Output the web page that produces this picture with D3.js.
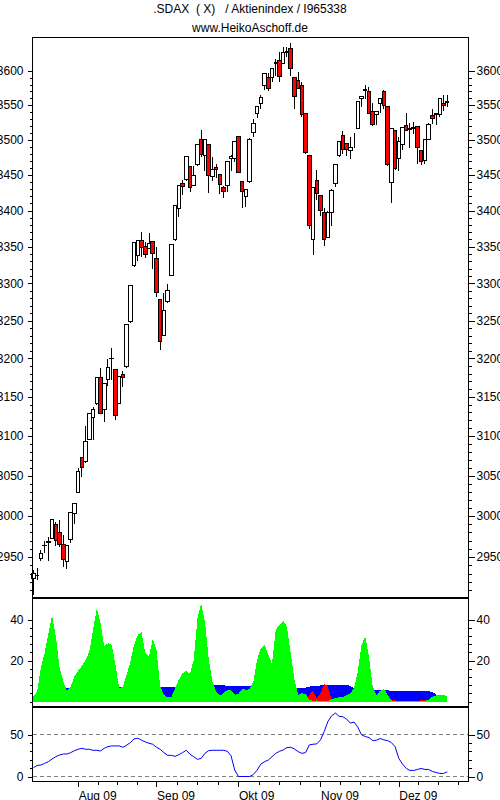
<!DOCTYPE html>
<html>
<head>
<meta charset="utf-8">
<script src="https://cdn.jsdelivr.net/npm/d3@7"></script>
<style>
html, body { margin: 0; padding: 0; background: #fff; }
svg { display: block; }
text { font-family: "Liberation Sans", Arial, sans-serif; font-size: 12px; fill: #000; }
.domain { display: none; }
.tick line { stroke: #000; shape-rendering: crispEdges; }
</style>
</head>
<body>
<svg id="chart" width="500" height="800"></svg>
<script>
var titleLines = [".SDAX  ( X)   / Aktienindex / I965338", "www.HeikoAschoff.de"];

// daily candles
var candleOpen = [2924,2927.5,2948,2963.5,2967.5,2973,2989,2980,2965,2944,2971,3003,3029.5,3072.7,3067.6,3095.5,3124,3141.5,3175,3134,3172.5,3199.5,3185,3141.5,3178.5,3189,3248.8,3324,3338,3359,3350,3348,3357.7,3333.8,3278,3230,3275.4,3310.6,3360,3403.4,3437.3,3443.6,3462.5,3435,3464,3501,3478,3492.5,3448,3461,3451,3432.4,3435,3473.9,3473,3505.3,3441.3,3419.7,3440,3511,3538.4,3553,3578.8,3589.7,3590.7,3611,3615,3611.7,3627.5,3633.5,3589.7,3585.4,3578,3538.4,3478,3360,3442,3421,3397,3363,3397,3438.5,3477.6,3506.7,3495,3485,3498,3516.4,3559,3571.5,3569.2,3541.4,3536.6,3553,3569.2,3548.5,3439.8,3514,3473.9,3492.5,3520,3515,3516.5,3518.5,3484,3470,3501,3535.6,3536.5,3537,3553,3554.5];
var candleHigh = [2934,2937,2958,2970,2974,2995.5,2992,2995,2977,2964,3004,3015,3060,3073,3113,3129,3137,3175,3187,3167,3199,3214,3185,3177,3184,3245.3,3296.7,3356,3359,3370,3356,3368.7,3358,3350,3278,3287.6,3299,3353.6,3407.5,3435.6,3443,3475.4,3462.5,3462,3492.5,3513.5,3499.7,3492.5,3475,3465.4,3451,3435,3468.4,3478,3496.8,3505.3,3441.3,3430,3503,3530,3548.5,3565,3597,3597,3604.3,3617.7,3628.6,3636,3636,3642,3589.7,3598,3584,3538.4,3478,3431.5,3456.5,3421,3404,3400,3430,3465,3496.8,3512,3495,3504,3509.6,3555.8,3563.3,3579.8,3576,3553,3541.4,3559,3572,3548.5,3515.6,3514,3504,3517,3538,3524,3526,3518.5,3484,3501,3524,3544,3539,3560,3565,3565];
var candleLow = [2905,2922,2945,2955,2945,2973,2963,2962,2938,2935,2967,2990,3029,3048,3066,3095,3095,3140,3128,3118,3164,3172,3120,3141,3163,3188,3247,3322,3330,3335.6,3333.8,3348,3320,3281.5,3210.5,3229,3273,3310,3358,3390.5,3422,3442,3426,3434,3463,3476,3456,3424.4,3442,3445,3423,3417,3426,3455,3468,3452,3403,3404.5,3439,3504,3532,3544,3571.6,3570,3583.5,3592,3584.5,3611,3620,3592,3544,3574,3533,3480,3375,3338,3414.5,3392,3351,3362,3378,3433,3476,3480,3477,3473,3488,3515,3548,3559,3537,3520,3520.8,3539,3544,3462,3409.9,3457,3455,3486,3514,3488,3508,3466,3463.5,3466,3499,3522,3521,3533,3541,3547];
var candleClose = [2930,2928,2954,2964.5,2968.5,2995.5,2970,2965,2947,2964,3004,3015,3055,3060,3093,3128.5,3134,3175,3128.5,3167,3188,3200.5,3126,3177,3175,3245.3,3296.7,3356,3359,3349,3339.8,3354.4,3341,3288,3222.8,3263.5,3290.8,3353.6,3407.5,3435.6,3434,3475.4,3431.5,3449.8,3492.5,3479.6,3499.7,3449.8,3456.9,3457,3437,3426,3468.4,3476.7,3496.8,3453.5,3426.7,3430,3501,3524,3548.5,3561.8,3597,3575,3604.3,3612.5,3591.4,3626.7,3628.5,3604.3,3563.3,3574.5,3536.6,3481.8,3379.8,3431.5,3423.5,3400.7,3360,3397,3428.5,3465,3496.8,3486.6,3486.6,3489.5,3498,3555.8,3563.3,3572.5,3538.4,3522,3541.4,3559,3550,3465,3515.6,3459.6,3496.8,3517,3514,3516,3517.5,3489.5,3468.4,3501,3521.4,3530,3537.5,3560,3550,3555.5];

// middle panel, three overlapping areas
var blueArea = [1.5,2.5,3.5,4.5,5,5.5,5.5,6,6,6.5,6.5,6.5,6.5,6.5,6.5,6.5,7,7,7,7,7,7,7,7,7,7,7,7,7,7,7,7,7,7.2,7.2,7.2,7.2,7,6.8,6.5,6.5,6.5,7,7,7.5,7.5,7.5,7.5,8,8.1,8.1,8,7.6,7.6,7.6,7.6,7.6,7.6,7.6,7.6,7.6,7.6,7.6,7.6,7.6,7.6,7.6,7.6,7.6,7.6,7,6.5,6.5,6.8,7.2,7.6,7.6,7.8,8,8.1,8.1,8.1,8.1,8.1,8.1,7.6,6.5,6,6,5.7,5.7,5.7,5.7,5.7,5.7,5.5,5.2,5.2,5.2,5.2,5.2,5.2,5.2,5.2,5.2,5.2,5.2,4.5,3.5,2.5,1.5,1];
var redArea = [0,0,0,0,0,0,0,0,0,0,0,0,0,0,0,0,0,0,0,0,0,0,0,0,0,0,0,0,0,0,0,0,0,0,0,0,0,0,0,0,0,0,0,0,0,0,0,0,0,0,0,0,0,0,0,0,0,0,0,0,0,0,0,0,0,0,0,0,0,0,0,0,0,0,3.3,5.2,1.6,4,8.6,7.3,0.5,0,0,0,0,0,0,0,0,0,0,0,0,0,0,0,0.6,0.6,0,0,0,0,0,0,0.6,0.6,0,0,0,0,0,0];
var greenArea = [2.4,4.9,16.5,23.6,33,41.8,31.7,17,9.8,5.2,7.3,12.2,15,17.4,20.3,24.4,35,45.5,38.2,26.8,28.5,27.6,17.9,6.5,7.3,13,19.5,27.6,32.5,33.7,23.6,22,30.4,25.2,7.3,3.3,2,2.1,6.5,10.6,13.8,15,13.5,20.3,40.7,47.6,39,21.1,9.8,4.9,2.9,4,5.7,5.4,3.3,3.7,6.2,5.7,6,9.8,20.3,26,27.6,22.8,18.4,35,37.4,39.3,36.6,23.6,10.6,3.3,4,3.7,0.8,0.4,0.5,0.3,0.3,0.3,1.1,1.6,2.1,2.1,3,4,6.5,14.6,27.6,31.7,22,7.3,3.3,5.2,6.2,3.3,0.5,0.3,0.3,0.3,0.3,0.3,0.3,0.3,0.3,0.3,0.8,2.4,3,3,3,2.8];

// bottom panel line
var lowerLine = [10.4,13.2,13.6,15.6,17.6,20.8,23.6,25.6,26.8,26.8,28.4,30.8,32.4,33.6,32.4,32.4,31.2,31.2,30.4,33.6,35.6,36.4,36.4,36.4,34.8,37.2,40.4,44.8,45.6,43.2,41.2,39.6,38.4,34.8,32.4,28.4,25.2,25.2,24,26,28.4,31.2,26.4,23.6,20.4,21.6,27.6,30.8,31.2,31.2,31.2,31.2,30,24.8,7.6,0,0,0,0,2.4,7.6,14.8,17.6,19.6,23.6,27.6,30,31.6,34.4,34.8,32.8,29.6,27.6,28.4,37.6,38.4,38.8,43.6,53.6,65.6,72.4,75.6,71.6,71.2,68.4,63.6,64.8,58.8,49.6,47.6,46.4,42.8,43.2,45.2,43.6,42.8,40.4,35.6,21.6,14.8,9.6,7.2,7.2,8.4,9.6,8.4,8.4,6,4.8,3.6,3.6,5.6];

// month starts as candle index, quarter months as minor ticks
var monthIndex = [12, 33, 55, 77, 98];
var monthLabels = ["Aug 09", "Sep 09", "Okt 09", "Nov 09", "Dez 09"];
var weekIndex = [17.25,22.5,27.75,38.5,44,49.5,60.5,66,71.5,82.25,87.5,92.75,103.25,108.5,113.75];

var priceTicks = [2950,3000,3050,3100,3150,3200,3250,3300,3350,3400,3450,3500,3550,3600];
var middleTicks = [20, 40];
var lowerTicks = [0, 50];

var left = 32.5, right = 468.5;
var top1 = 37.5, bottom1 = 597.5, bottom2 = 706.5, bottom3 = 781.5;

var svg = d3.select("#chart");

var x = d3.scaleLinear().domain([-0.25, 116.7]).range([left, right]);
var yPrice = d3.scaleLog().domain([2950, 3600]).range([557, 71]);
var yMiddle = d3.scaleLinear().domain([0, 40]).range([701.5, 619.5]);
var yLower = d3.scaleLinear().domain([0, 50]).range([776.5, 734.5]);

var days = d3.range(candleOpen.length);

// TITLE
svg.selectAll(".title")
    .data(titleLines)
    .enter().append("text")
    .attr("class", "title")
    .attr("x", 250)
    .attr("y", function (d, i) { return 13 + i * 19; })
    .attr("text-anchor", "middle")
    .attr("xml:space", "preserve")
    .style("white-space", "pre")
    .text(function (d) { return d; });

// MIDDLE PANEL
function drawArea(values, color) {
    var area = d3.area()
        .x(function (d, i) { return x(i); })
        .y0(yMiddle(0))
        .y1(function (d) { return yMiddle(d); });
    svg.append("path")
        .datum(values)
        .attr("d", area)
        .attr("fill", color)
        .attr("shape-rendering", "crispEdges");
}
drawArea(blueArea, "#0000ff");
drawArea(redArea, "#ff0000");
drawArea(greenArea, "#00ff00");

// LOWER PANEL
svg.selectAll(".guide")
    .data(lowerTicks)
    .enter().append("line")
    .attr("class", "guide")
    .attr("x1", left)
    .attr("x2", right)
    .attr("y1", function (d) { return yLower(d); })
    .attr("y2", function (d) { return yLower(d); })
    .attr("stroke", "#808080")
    .attr("stroke-dasharray", "4,3")
    .attr("shape-rendering", "crispEdges");

svg.append("path")
    .datum(lowerLine)
    .attr("d", d3.line()
        .x(function (d, i) { return x(i); })
        .y(function (d) { return yLower(d); }))
    .attr("fill", "none")
    .attr("stroke", "#0000ff")
    .attr("stroke-width", 1);

// CANDLES
var candles = svg.selectAll(".candle")
    .data(days)
    .enter().append("g")
    .attr("class", "candle")
    .attr("shape-rendering", "crispEdges");

candles.append("line")
    .attr("x1", function (i) { return x(i); })
    .attr("x2", function (i) { return x(i); })
    .attr("y1", function (i) { return yPrice(candleHigh[i]); })
    .attr("y2", function (i) { return yPrice(candleLow[i]); })
    .attr("stroke", "#000");

candles.filter(function (i) { return candleOpen[i] != candleClose[i]; })
    .append("rect")
    .attr("x", function (i) { return x(i) - 1.75; })
    .attr("width", 3.5)
    .attr("y", function (i) { return yPrice(Math.max(candleOpen[i], candleClose[i])); })
    .attr("height", function (i) { return Math.abs(yPrice(candleOpen[i]) - yPrice(candleClose[i])); })
    .attr("fill", function (i) { return candleClose[i] < candleOpen[i] ? "#ff0000" : "#ffffff"; })
    .attr("stroke", "#000");

// FRAME
svg.append("path")
    .attr("d", "M" + left + "," + bottom3 + "V" + top1 + "H" + right + "V" + bottom3 + "H" + left)
    .attr("fill", "none")
    .attr("stroke", "#000")
    .attr("shape-rendering", "crispEdges");

[bottom1, bottom2].forEach(function (yy) {
    svg.append("line")
        .attr("x1", left)
        .attr("x2", right)
        .attr("y1", yy)
        .attr("y2", yy)
        .attr("stroke", "#000")
        .attr("stroke-width", 2)
        .attr("shape-rendering", "crispEdges");
});

// AXES
function sideAxes(scale, majors, minors) {
    var fmt = d3.format("d");
    svg.append("g").attr("transform", "translate(" + left + ",0)")
        .call(d3.axisLeft(scale).tickValues(minors).tickSize(3).tickFormat(""));
    svg.append("g").attr("transform", "translate(" + right + ",0)")
        .call(d3.axisRight(scale).tickValues(minors).tickSize(3).tickFormat(""));
    svg.append("g").attr("transform", "translate(" + left + ",0)")
        .call(d3.axisLeft(scale).tickValues(majors).tickSize(5).tickPadding(4).tickFormat(fmt));
    svg.append("g").attr("transform", "translate(" + right + ",0)")
        .call(d3.axisRight(scale).tickValues(majors).tickSize(6).tickPadding(2).tickFormat(fmt));
}
sideAxes(yPrice, priceTicks, d3.range(2910, 3601, 10));
sideAxes(yMiddle, middleTicks, d3.range(0, 41, 4));
sideAxes(yLower, lowerTicks, d3.range(0, 51, 10));

svg.append("g").attr("transform", "translate(0," + bottom3 + ")")
    .call(d3.axisBottom(x).tickValues(weekIndex).tickSize(3).tickFormat(""));

var monthAxis = svg.append("g").attr("transform", "translate(0," + bottom3 + ")")
    .call(d3.axisBottom(x).tickValues(monthIndex).tickSize(5).tickPadding(5)
        .tickFormat(function (d, i) { return monthLabels[i]; }));
monthAxis.selectAll("text").attr("text-anchor", "start");
monthAxis.selectAll("text, .tick text").style("font-size", "12px");
svg.selectAll(".tick text").style("font-family", "'Liberation Sans', Arial, sans-serif").style("font-size", "12px");
</script>
</body>
</html>
